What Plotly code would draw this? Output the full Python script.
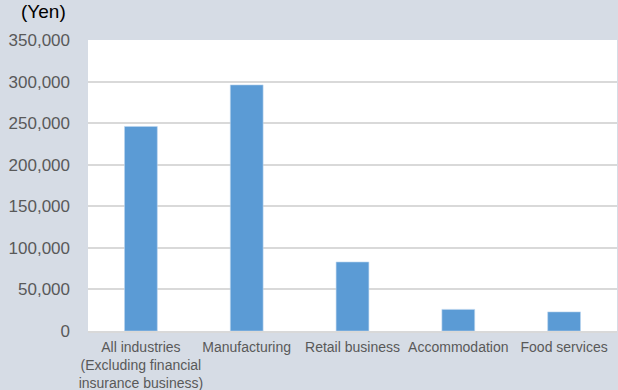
import plotly.graph_objects as go

# Data
industries = [
    "All industries<br>(Excluding financial<br>insurance business)",
    "Manufacturing",
    "Retail business",
    "Accommodation",
    "Food services",
]
amount_yen = [246000, 296000, 83000, 26000, 23000]
y_ticks = [0, 50000, 100000, 150000, 200000, 250000, 300000, 350000]
y_tick_labels = ["0", "50,000", "100,000", "150,000", "200,000", "250,000", "300,000", "350,000"]

bg = "#d6dce5"
text_color = "#595959"

fig = go.Figure()

fig.add_trace(go.Bar(
    x=industries,
    y=amount_yen,
    marker=dict(color="#5b9bd5", line=dict(color="#bcd5ee", width=0.6)),
    width=0.31,
    hoverinfo="skip",
))

fig.update_layout(
    width=618,
    height=390,
    margin=dict(l=88, r=1, t=40, b=59),
    paper_bgcolor=bg,
    plot_bgcolor="white",
    font=dict(family="Liberation Sans, Arial, sans-serif", color=text_color),
    showlegend=False,
    xaxis=dict(
        tickfont=dict(size=14),
        tickangle=0,
        automargin=False,
        ticklabelstandoff=2,
        showgrid=False,
        showline=True,
        linecolor="#d9d9d9",
        linewidth=2,
        ticks="",
        fixedrange=True,
    ),
    yaxis=dict(
        range=[0, 350000],
        tickvals=y_ticks,
        ticktext=y_tick_labels,
        tickfont=dict(size=17),
        automargin=False,
        showgrid=True,
        gridcolor="#d9d9d9",
        gridwidth=1.5,
        zeroline=False,
        showline=False,
        ticks="",
        ticklabelstandoff=17,
        fixedrange=True,
    ),
    annotations=[dict(
        text="(Yen)",
        xref="paper", yref="paper",
        x=-0.085, y=1.0,
        xanchor="center", yanchor="bottom",
        yshift=16,
        showarrow=False,
        font=dict(size=19, color="#000000"),
    )],
)

# drop the default page margin so the figure sits at the window's corner
fig.write_html(
    "out.html",
    config={"displayModeBar": False},
    post_script="document.body.style.margin='0';document.body.style.overflow='hidden';",
)
